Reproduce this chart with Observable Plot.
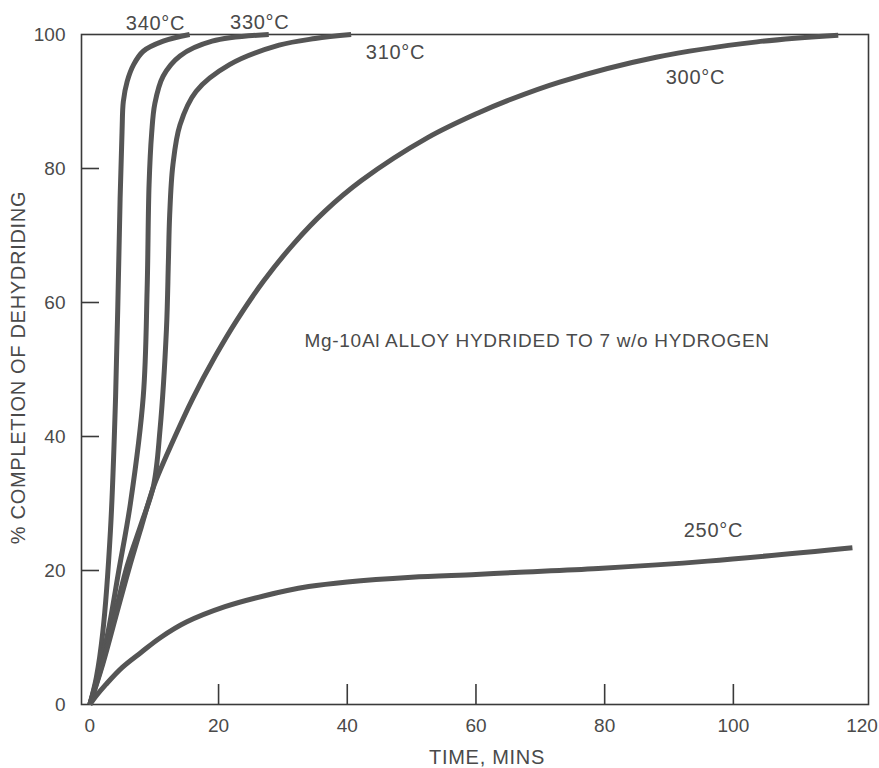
<!DOCTYPE html>
<html>
<head>
<meta charset="utf-8">
<script src="https://cdn.jsdelivr.net/npm/d3@7"></script>
<script src="https://cdn.jsdelivr.net/npm/@observablehq/plot@0.6"></script>
<style>
  body { margin: 0; background: #fff; }
  #chart { width: 879px; height: 768px; }
</style>
</head>
<body>
<div id="chart"></div>
<script>
// Time (mins) and % completion
const t340 = [0, 1, 2, 3.2, 4, 4.7, 5, 5.2, 5.8, 6.8, 8.3, 11.4, 15.5];
const v340 = [0, 4, 10.7, 26, 46, 75.5, 85.5, 90, 93, 95.5, 97.5, 99, 100];

const t330 = [0, 1.4, 2.8, 4.5, 6.3, 8.3, 8.9, 9.2, 9.6, 10.1, 11.4, 14, 19, 27.8];
const v330 = [0, 5, 10.7, 20, 30, 46, 62, 77.6, 85.2, 89.7, 93.8, 96.8, 99, 100];

const t310 = [0, 1.6, 3.2, 5.8, 8, 9.9, 10.9, 11.9, 12.2, 12.4, 12.9, 14, 16.5, 21.7, 29.4, 35, 40.6];
const v310 = [0, 5, 10.7, 20.7, 27, 32.7, 41, 56, 66, 73, 80.5, 86.5, 91.5, 95.5, 98.4, 99.4, 100];

const t300 = [0, 2, 4, 6, 8, 9.9, 13, 16, 19.5, 22.8, 27, 31.7, 36.5, 42.2, 52.5, 60.6, 64.8, 73, 88, 103.7, 116.3];
const v300 = [0, 6, 13, 20, 26.5, 32.5, 39.5, 45.7, 52, 57.3, 63.2, 68.8, 73.6, 78.2, 84.6, 88.4, 90.1, 92.9, 96.6, 98.9, 99.9];

const t250 = [0, 1, 2.5, 5, 8, 11, 15, 21, 27, 34, 40, 50, 60, 66, 79, 96, 118.5];
const v250 = [0, 1.3, 3, 5.5, 7.8, 10, 12.3, 14.6, 16.2, 17.6, 18.3, 19, 19.4, 19.7, 20.3, 21.4, 23.4];

const seriesNames = ["340°C", "330°C", "310°C", "300°C", "250°C"];
const seriesT = [t340, t330, t310, t300, t250];
const seriesV = [v340, v330, v310, v300, v250];

// Curve labels (time, % completion)
const labelText = ["340°C", "330°C", "310°C", "300°C", "250°C"];
const labelT = [10.2, 26.4, 47.5, 94.1, 96.9];
const labelV = [101.6, 101.8, 97.3, 93.6, 26.0];

const xTicks = [0, 20, 40, 60, 80, 100, 120];
const yTicks = [0, 20, 40, 60, 80, 100];
const innerTicksX = [20, 40, 60, 80, 100];
const innerTicksY = [20, 40, 60, 80];

const annotation = "Mg-10Al ALLOY HYDRIDED TO 7 w/o HYDROGEN";
const annotationT = [69.5];
const annotationV = [54.3];
const xLabel = "TIME, MINS";
const yLabel = "% COMPLETION OF DEHYDRIDING";

const rows = [];
seriesNames.forEach((name, i) => {
  seriesT[i].forEach((t, j) => rows.push({series: name, t, v: seriesV[i][j]}));
});
const labels = labelText.map((s, i) => ({s, t: labelT[i], v: labelV[i]}));

const W = 879, H = 768;
const mL = 81, mR = 11, mT = 34, mB = 64;
const innerW = W - mL - mR, innerH = H - mT - mB;
const ink = "#4a4a4a";
const font = "'Liberation Sans', Arial, Helvetica, sans-serif";

const chart = Plot.plot({
  width: W,
  height: H,
  marginLeft: mL,
  marginRight: mR,
  marginTop: mT,
  marginBottom: mB,
  style: {fontFamily: font, color: ink, background: "#fff"},
  x: {domain: [-1.3, 121]},
  y: {domain: [0, 100]},
  marks: [
    Plot.frame({stroke: "#3a3a3a", strokeWidth: 1.6}),
    Plot.ruleX(innerTicksX, {x: d => d, insetTop: innerH - 20, stroke: "#3a3a3a", strokeWidth: 1.6}),
    Plot.ruleY(innerTicksY, {y: d => d, insetRight: innerW - 18, stroke: "#3a3a3a", strokeWidth: 1.6}),
    Plot.axisX({ticks: xTicks, tickSize: 0, tickPadding: 14, label: null, fontSize: 19, tickFormat: d => String(d)}),
    Plot.axisY({ticks: yTicks, tickSize: 0, tickPadding: 16, label: null, fontSize: 19, tickFormat: d => String(d)}),
    Plot.line(rows, {x: "t", y: "v", z: "series", stroke: "#555", strokeWidth: 5, curve: "catmull-rom", strokeLinejoin: "round", strokeLinecap: "butt"}),
    Plot.text(labels, {x: "t", y: "v", text: "s", fontSize: 20, fill: ink}),
    Plot.text([annotation], {x: annotationT, y: annotationV, text: d => d, fontSize: 19, fill: ink}),
    Plot.text([xLabel], {frameAnchor: "bottom", textAnchor: "middle", lineAnchor: "middle", dx: 12, dy: 53, text: d => d, fontSize: 20, fill: ink}),
    Plot.text([yLabel], {frameAnchor: "left", textAnchor: "middle", lineAnchor: "middle", dx: -63, dy: -2, rotate: -90, text: d => d, fontSize: 20, fill: ink})
  ]
});
d3.select(chart).selectAll("g[aria-label='text'] text").style("letter-spacing", "0.7px");
document.getElementById("chart").appendChild(chart);
</script>
</body>
</html>
